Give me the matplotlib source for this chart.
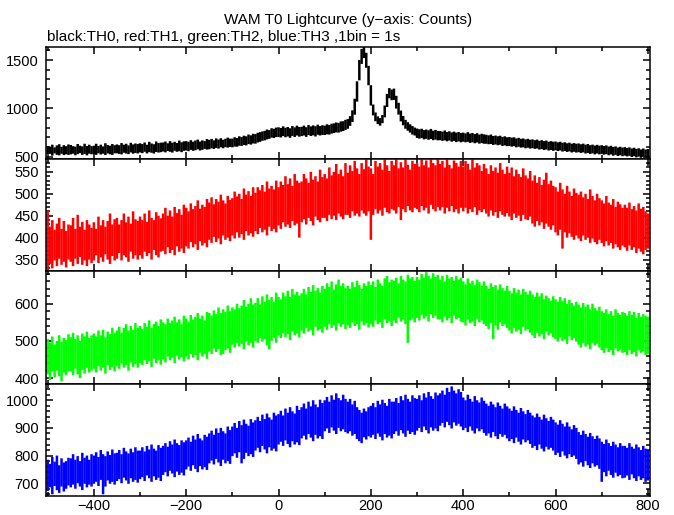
import matplotlib

matplotlib.use("Agg")

import matplotlib.pyplot as plt
import numpy as np
from matplotlib.ticker import MultipleLocator

plt.rcParams["font.family"] = ["Liberation Sans", "DejaVu Sans"]

# 5 s windows; for each window the highest and lowest 1 s count
time_s = np.arange(-500, 801, 5)

th0_high = [
    612, 605, 625, 598, 618, 630, 603, 620, 610, 628,
    622, 610, 605, 632, 615, 608, 635, 612, 625, 610,
    615, 635, 612, 625, 608, 640, 622, 615, 632, 620,
    628, 620, 642, 625, 635, 618, 645, 628, 638, 632,
    640, 632, 648, 625, 655, 638, 630, 658, 642, 646,
    648, 658, 640, 662, 645, 655, 642, 668, 650, 660,
    662, 655, 672, 656, 668, 678, 658, 670, 662, 684,
    675, 685, 670, 690, 678, 692, 676, 686, 698, 688,
    688, 702, 694, 712, 704, 718, 712, 730, 722, 738,
    735, 748, 755, 762, 768, 782, 776, 795, 790, 802,
    805, 798, 815, 800, 808, 795, 818, 804, 822, 808,
    810, 822, 806, 828, 814, 825, 816, 832, 818, 826,
    822, 836, 828, 842, 845, 855, 850, 866, 868, 882,
    890, 920, 980, 1100, 1280, 1500, 1615, 1635, 1575, 1440,
    1240, 1040, 958, 918, 900, 932, 1030, 1150, 1210, 1195,
    1205, 1130, 1058, 978, 922, 882, 858, 836, 818, 802,
    792, 785, 790, 776, 782, 774, 788, 770, 778, 768,
    766, 760, 772, 756, 764, 752, 760, 750, 756, 746,
    750, 742, 755, 740, 746, 735, 744, 730, 738, 732,
    728, 722, 730, 715, 720, 712, 718, 705, 712, 702,
    705, 698, 702, 690, 696, 686, 690, 680, 686, 676,
    680, 672, 678, 665, 672, 662, 668, 655, 662, 656,
    658, 650, 656, 645, 650, 640, 646, 635, 642, 635,
    638, 630, 636, 625, 632, 620, 626, 616, 624, 615,
    620, 612, 618, 606, 614, 602, 608, 596, 604, 595,
    600, 592, 598, 586, 594, 582, 588, 576, 586, 575,
    580,
]
th0_low = [
    522, 530, 512, 535, 520, 515, 532, 518, 526, 520,
    525, 532, 516, 528, 538, 520, 530, 515, 532, 526,
    530, 520, 536, 524, 532, 518, 535, 526, 520, 536,
    536, 530, 525, 542, 534, 528, 545, 532, 540, 535,
    545, 538, 552, 535, 548, 542, 534, 550, 544, 548,
    555, 546, 560, 552, 544, 562, 552, 558, 548, 562,
    565, 558, 572, 562, 568, 578, 565, 572, 582, 575,
    578, 588, 582, 592, 585, 598, 588, 600, 595, 602,
    598, 606, 604, 615, 612, 622, 618, 632, 626, 638,
    636, 648, 655, 666, 670, 680, 686, 698, 694, 704,
    705, 700, 714, 702, 710, 696, 716, 705, 720, 708,
    714, 720, 706, 725, 715, 722, 710, 728, 720, 726,
    725, 732, 730, 740, 745, 752, 750, 760, 766, 778,
    790, 820, 860, 935, 1070, 1290, 1460, 1520, 1420, 1240,
    1030, 928, 868, 838, 822, 848, 908, 1015, 1105, 1085,
    1088, 998, 936, 866, 826, 790, 770, 750, 730, 720,
    695, 688, 694, 680, 686, 676, 684, 672, 678, 670,
    672, 665, 670, 660, 668, 656, 664, 652, 660, 650,
    656, 650, 655, 644, 650, 640, 648, 636, 642, 635,
    635, 630, 632, 622, 628, 620, 625, 612, 618, 610,
    612, 605, 610, 598, 604, 595, 598, 588, 594, 585,
    590, 582, 586, 575, 580, 570, 576, 565, 570, 562,
    568, 560, 566, 554, 560, 550, 556, 545, 552, 544,
    548, 540, 546, 534, 540, 530, 536, 525, 534, 525,
    530, 522, 528, 516, 524, 512, 520, 508, 516, 506,
    512, 504, 510, 498, 506, 494, 502, 490, 500, 492,
    495,
]

th1_high = [
    462, 425, 440, 418, 432, 445, 420, 438, 415, 430,
    428, 445, 420, 452, 425, 436, 418, 440, 430, 422,
    435, 420, 448, 428, 440, 425, 438, 455, 430, 442,
    445, 430, 440, 455, 435, 448, 432, 460, 442, 438,
    448, 440, 455, 436, 462, 445, 440, 458, 450, 444,
    455, 468, 450, 462, 448, 470, 456, 465, 452, 475,
    468, 460, 478, 465, 472, 485, 466, 475, 470, 488,
    480, 492, 476, 488, 482, 498, 485, 478, 495, 486,
    490, 505, 494, 500, 488, 512, 498, 506, 495, 515,
    502, 515, 508, 520, 505, 528, 512, 518, 510, 530,
    515, 528, 520, 540, 522, 535, 518, 545, 530, 525,
    528, 545, 535, 525, 550, 532, 540, 528, 555, 538,
    545, 535, 560, 542, 550, 568, 545, 555, 540, 570,
    548, 565, 552, 575, 558, 545, 570, 556, 578, 562,
    558, 545, 575, 562, 570, 555, 578, 565, 552, 575,
    565, 578, 558, 572, 560, 578, 566, 555, 575, 568,
    570, 562, 578, 565, 576, 560, 578, 570, 565, 578,
    568, 575, 560, 578, 566, 558, 576, 570, 562, 575,
    562, 575, 568, 555, 578, 560, 570, 565, 552, 568,
    558, 545, 565, 552, 560, 548, 570, 555, 545, 562,
    548, 560, 540, 555, 545, 538, 558, 542, 535, 552,
    530, 542, 525, 538, 520, 532, 548, 522, 530, 518,
    515, 505, 525, 510, 500, 518, 505, 495, 512, 502,
    498, 505, 492, 500, 488, 510, 495, 485, 500, 490,
    485, 478, 495, 480, 475, 488, 470, 482, 476, 468,
    475, 468, 480, 465, 472, 462, 478, 466, 470, 460,
    455,
]
th1_low = [
    325, 340, 330, 348, 335, 352, 338, 345, 332, 350,
    345, 335, 352, 340, 356, 338, 348, 335, 350, 342,
    348, 360, 342, 355, 345, 362, 350, 340, 358, 348,
    352, 365, 348, 360, 355, 345, 368, 352, 360, 350,
    360, 352, 368, 358, 365, 350, 372, 360, 355, 368,
    370, 362, 378, 365, 372, 360, 380, 368, 375, 365,
    380, 375, 390, 378, 385, 372, 392, 382, 388, 378,
    395, 388, 402, 390, 398, 385, 405, 395, 400, 392,
    405, 398, 412, 400, 408, 395, 415, 405, 410, 402,
    415, 408, 422, 412, 418, 405, 425, 415, 420, 412,
    428, 420, 435, 425, 430, 422, 438, 428, 432, 400,
    435, 442, 430, 445, 438, 428, 448, 440, 435, 445,
    445, 438, 452, 442, 450, 440, 455, 448, 442, 452,
    452, 445, 460, 450, 455, 448, 462, 455, 450, 460,
    395, 452, 465, 455, 462, 450, 468, 458, 455, 465,
    462, 455, 470, 440, 465, 458, 472, 462, 458, 468,
    465, 458, 472, 462, 468, 455, 475, 465, 460, 470,
    462, 470, 455, 468, 460, 472, 458, 465, 455, 468,
    460, 468, 455, 465, 458, 470, 452, 462, 458, 465,
    455, 448, 462, 450, 458, 445, 460, 452, 448, 456,
    448, 440, 455, 445, 450, 438, 452, 442, 440, 448,
    432, 425, 438, 428, 435, 420, 432, 425, 418, 428,
    412, 405, 418, 375, 412, 400, 410, 402, 395, 405,
    398, 392, 405, 395, 400, 388, 398, 390, 385, 395,
    388, 380, 392, 382, 388, 375, 385, 378, 372, 382,
    378, 370, 382, 372, 378, 365, 375, 368, 362, 372,
    375,
]

th2_high = [
    505, 495, 512, 490, 500, 515, 498, 508, 502, 518,
    510, 522, 505, 515, 500, 520, 512, 525, 508, 515,
    520, 512, 528, 515, 530, 510, 525, 518, 535, 522,
    528, 538, 522, 535, 545, 528, 540, 530, 548, 535,
    540, 532, 548, 538, 555, 535, 545, 552, 540, 558,
    550, 545, 560, 548, 555, 565, 550, 558, 545, 568,
    560, 552, 570, 558, 565, 575, 560, 568, 555, 578,
    575, 568, 582, 572, 590, 575, 585, 578, 595, 580,
    590, 585, 600, 588, 595, 610, 592, 600, 615, 598,
    602, 615, 598, 620, 605, 625, 610, 618, 605, 630,
    618, 612, 630, 620, 635, 618, 640, 625, 632, 622,
    628, 640, 625, 645, 632, 650, 635, 642, 630, 648,
    640, 655, 645, 660, 638, 652, 665, 648, 655, 642,
    648, 640, 658, 645, 662, 650, 640, 655, 648, 660,
    650, 660, 645, 665, 655, 648, 668, 675, 658, 665,
    662, 670, 655, 675, 665, 660, 678, 668, 672, 662,
    672, 665, 680, 670, 685, 675, 668, 682, 672, 678,
    665, 675, 660, 678, 668, 672, 662, 675, 665, 670,
    660, 652, 668, 655, 662, 650, 665, 658, 648, 660,
    648, 640, 655, 645, 650, 638, 652, 642, 635, 648,
    635, 628, 642, 630, 638, 625, 640, 632, 625, 635,
    625, 618, 630, 620, 628, 612, 622, 615, 608, 620,
    612, 605, 618, 608, 615, 600, 610, 602, 595, 605,
    598, 590, 602, 592, 598, 585, 600, 588, 582, 592,
    580, 575, 585, 572, 580, 568, 585, 575, 570, 578,
    575, 568, 580, 570, 578, 562, 575, 565, 572, 568,
    565,
]
th2_low = [
    410, 395, 418, 402, 420, 405, 392, 415, 408, 418,
    418, 408, 425, 410, 400, 422, 412, 428, 415, 420,
    425, 415, 432, 420, 428, 412, 435, 422, 430, 418,
    432, 425, 440, 428, 435, 420, 442, 430, 438, 428,
    440, 435, 448, 438, 445, 430, 452, 440, 448, 436,
    450, 442, 458, 448, 455, 440, 460, 450, 456, 445,
    458, 450, 465, 455, 462, 448, 468, 458, 465, 452,
    472, 465, 480, 470, 478, 462, 465, 475, 480, 468,
    490, 482, 495, 485, 492, 478, 498, 488, 495, 482,
    500, 495, 508, 498, 505, 488, 478, 500, 508, 495,
    515, 508, 520, 510, 518, 502, 525, 515, 520, 510,
    528, 520, 535, 525, 530, 515, 538, 528, 532, 522,
    538, 530, 545, 535, 542, 528, 548, 538, 545, 532,
    542, 535, 550, 540, 545, 530, 552, 542, 548, 536,
    545, 538, 555, 545, 550, 535, 558, 548, 552, 540,
    555, 548, 562, 552, 558, 545, 495, 555, 560, 550,
    562, 555, 570, 560, 566, 552, 572, 562, 568, 558,
    558, 550, 565, 555, 562, 548, 568, 558, 562, 552,
    550, 542, 558, 548, 552, 540, 560, 550, 555, 545,
    540, 532, 548, 505, 542, 530, 550, 540, 545, 535,
    528, 520, 535, 525, 530, 518, 538, 528, 532, 522,
    515, 508, 522, 512, 518, 505, 525, 515, 520, 510,
    505, 498, 510, 500, 505, 492, 512, 502, 508, 498,
    490, 482, 495, 485, 490, 478, 495, 488, 492, 482,
    475, 468, 480, 470, 475, 462, 480, 472, 476, 468,
    470, 462, 475, 465, 470, 458, 475, 468, 472, 462,
    465,
]

th3_high = [
    785, 770, 795, 778, 800, 765, 790, 775, 780, 792,
    790, 805, 785, 798, 780, 810, 792, 800, 785, 805,
    800, 812, 795, 820, 805, 798, 815, 802, 822, 808,
    810, 820, 805, 828, 815, 808, 825, 812, 830, 818,
    818, 830, 815, 835, 822, 840, 825, 818, 838, 828,
    835, 845, 832, 852, 840, 858, 845, 838, 855, 848,
    855, 865, 850, 872, 858, 878, 862, 855, 875, 868,
    880, 890, 875, 898, 882, 900, 888, 880, 905, 892,
    905, 918, 900, 925, 910, 930, 915, 908, 932, 920,
    928, 940, 925, 948, 932, 952, 938, 930, 955, 945,
    950, 962, 945, 970, 955, 975, 960, 952, 980, 965,
    975, 988, 970, 995, 978, 1000, 985, 975, 1002, 990,
    1000, 1012, 995, 1018, 1002, 1025, 1008, 1000, 1020, 1005,
    995, 1005, 985, 998, 975, 965, 955, 970, 960, 975,
    980, 990, 975, 998, 985, 1002, 990, 980, 1005, 995,
    995, 1008, 990, 1015, 1000, 1020, 1005, 995, 1018, 1008,
    1005, 1018, 1000, 1025, 1010, 1030, 1015, 1005, 1028, 1018,
    1025, 1035, 1020, 1045, 1030, 1050, 1035, 1025, 1040, 1030,
    1010, 1000, 1020, 1005, 995, 1015, 1000, 992, 1010, 998,
    988, 980, 995, 985, 975, 992, 980, 970, 988, 978,
    970, 962, 978, 965, 955, 972, 960, 950, 965, 955,
    945, 938, 952, 940, 930, 948, 935, 925, 940, 930,
    920, 912, 928, 915, 905, 920, 905, 895, 910, 900,
    885, 875, 890, 878, 868, 882, 870, 860, 872, 862,
    850, 842, 858, 845, 835, 850, 840, 830, 845, 835,
    835, 828, 845, 832, 825, 840, 830, 820, 835, 825,
    820,
]
th3_low = [
    672, 685, 660, 690, 675, 665, 688, 670, 680, 692,
    685, 695, 680, 700, 688, 675, 698, 685, 695, 688,
    698, 705, 690, 712, 660, 688, 710, 698, 705, 695,
    708, 715, 700, 720, 710, 698, 718, 705, 712, 702,
    715, 722, 708, 728, 718, 705, 725, 712, 720, 708,
    730, 740, 725, 745, 735, 722, 742, 730, 738, 728,
    750, 760, 745, 765, 752, 740, 762, 750, 758, 748,
    772, 782, 768, 788, 775, 762, 785, 772, 780, 770,
    798, 808, 792, 812, 772, 788, 810, 798, 805, 795,
    818, 828, 812, 835, 822, 808, 830, 818, 825, 815,
    840, 850, 835, 855, 842, 830, 852, 840, 848, 838,
    862, 872, 858, 878, 865, 852, 875, 862, 870, 860,
    888, 898, 882, 902, 890, 878, 900, 888, 895, 885,
    880, 888, 872, 878, 860, 852, 845, 866, 858, 870,
    865, 875, 860, 880, 868, 855, 878, 865, 872, 862,
    878, 888, 872, 892, 880, 868, 890, 878, 885, 875,
    890, 900, 885, 905, 892, 880, 902, 890, 898, 888,
    908, 918, 902, 922, 910, 898, 920, 908, 915, 905,
    892, 900, 885, 905, 890, 880, 898, 888, 895, 882,
    872, 880, 865, 885, 870, 860, 878, 868, 875, 862,
    852, 860, 845, 865, 850, 840, 858, 848, 855, 842,
    828, 835, 820, 840, 825, 815, 832, 822, 828, 818,
    802, 810, 795, 815, 800, 790, 805, 795, 800, 788,
    768, 775, 760, 780, 765, 755, 772, 760, 765, 752,
    705, 740, 725, 745, 730, 720, 738, 725, 730, 718,
    720, 728, 712, 732, 718, 708, 725, 712, 718, 705,
    710,
]

panels = [
    # low, high, colour, ylim, major step, minor step
    (th0_low, th0_high, "black", (476, 1636), 500, 100),
    (th1_low, th1_high, "#ff0000", (323, 579), 50, 10),
    (th2_low, th2_high, "#00ff00", (385, 687), 100, 20),
    (th3_low, th3_high, "#0000ff", (654, 1060), 100, 20),
]

fig, axes = plt.subplots(4, 1, sharex=True, figsize=(6.74, 5.15), dpi=100)
fig.subplots_adjust(left=0.068, right=0.964, top=0.909, bottom=0.037, hspace=0)

for ax, (low, high, color, ylim, major, minor) in zip(axes, panels):
    ax.vlines(time_s, low, high, colors=color, linewidth=1.8, snap=False)
    ax.set_ylim(*ylim)
    ax.set_xlim(-504, 804)
    ax.yaxis.set_major_locator(MultipleLocator(major))
    ax.yaxis.set_minor_locator(MultipleLocator(minor))
    ax.xaxis.set_major_locator(MultipleLocator(200))
    ax.xaxis.set_minor_locator(MultipleLocator(100))
    ax.tick_params(which="both", direction="in", top=True, right=True,
                   width=1.1, labelsize=10.5, pad=5)
    ax.tick_params(which="major", length=5)
    ax.tick_params(which="minor", length=2.8)
    ax.tick_params(axis="x", pad=2)
    for spine in ax.spines.values():
        spine.set_linewidth(1.1)

fig.text(0.516, 0.962, "WAM T0 Lightcurve (y\u2212axis: Counts)",
         ha="center", va="center", fontsize=11)
fig.text(0.069, 0.92, "black:TH0, red:TH1, green:TH2, blue:TH3 ,1bin = 1s",
         ha="left", va="baseline", fontsize=11)

fig.savefig("out.png", dpi=100)
